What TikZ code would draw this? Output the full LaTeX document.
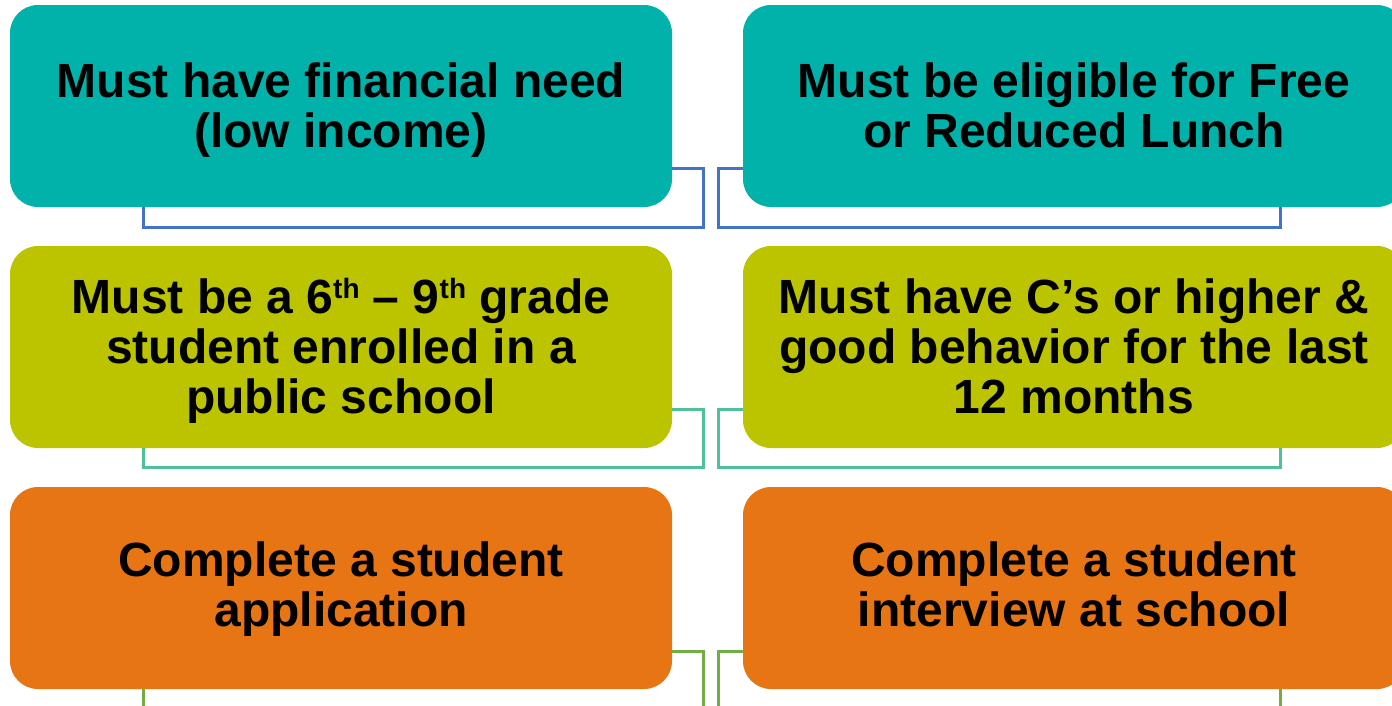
\documentclass[tikz,border=0pt]{standalone}
\usepackage{fontspec}
\setmainfont{Liberation Sans}
\definecolor{teal1}{RGB}{0,178,170}
\definecolor{olive1}{RGB}{188,196,0}
\definecolor{orange1}{RGB}{232,117,20}
\definecolor{lineblue}{RGB}{68,114,196}
\definecolor{linegreen}{RGB}{80,192,150}
\definecolor{linegreen2}{RGB}{112,173,71}
\newcommand{\topS}{\rule{0pt}{44pt}}
\newcommand{\topT}{\rule{0pt}{38pt}}
\newcommand{\botS}{\rule[-12pt]{0pt}{12pt}}
\newcommand{\sups}[1]{\raisebox{15pt}{\fontsize{28}{28}\selectfont #1}}
\tikzset{
  card/.style={rectangle, rounded corners=28pt, minimum width=662pt, minimum height=202pt,
    inner sep=0pt, align=center, font=\fontsize{48}{50}\selectfont\bfseries, text=black},
  conn/.style={line width=3pt}
}
\begin{document}
\begin{tikzpicture}[x=1pt,y=-1pt]
\useasboundingbox (0,0) rectangle (1392,705);
\clip (0,0) rectangle (1392,705);
\fill[white] (0,0) rectangle (1392,705);
% row 1
\node[card, fill=teal1] (a1) at (341,106) {\topS Must have financial need\\(low income)\botS};
\node[card, fill=teal1] (b1) at (1074,106) {\topS Must be eligible for Free\\or Reduced Lunch\botS};
% row 2
\node[card, fill=olive1] (a2) at (341,347) {\topS Must be a 6\sups{th} – 9\sups{th} grade\\student enrolled in a\\public school\botS};
\node[card, fill=olive1] (b2) at (1074,347) {\topS Must have C’s or higher \&\\good behavior for the last\\12 months\botS};
% row 3
\node[card, fill=orange1] (a3) at (341,588) {\topT Complete a student\\application\botS};
\node[card, fill=orange1] (b3) at (1074,588) {\topT Complete a student\\interview at school\botS};
% connectors row 1
\draw[conn, lineblue] ([yshift=-62pt]a1.east) -- ++(31,0) -- ++(0,59) -| ([xshift=-198pt]a1.south);
\draw[conn, lineblue] ([yshift=-62pt]b1.west) -- ++(-24,0) -- ++(0,59) -| ([xshift=206pt]b1.south);
% connectors row 2
\draw[conn, linegreen] ([yshift=-62pt]a2.east) -- ++(31,0) -- ++(0,58) -| ([xshift=-198pt]a2.south);
\draw[conn, linegreen] ([yshift=-62pt]b2.west) -- ++(-24,0) -- ++(0,58) -| ([xshift=206pt]b2.south);
% connectors row 3
\draw[conn, linegreen2] ([yshift=-63pt]a3.east) -- ++(31,0) -- ++(0,80) coordinate (a3end);
\draw[conn, linegreen2] ([yshift=-63pt]b3.west) -- ++(-24,0) -- ++(0,80) coordinate (b3end);
\draw[conn, linegreen2] ([xshift=-198pt]a3.south) -- ++(0,40) coordinate (a3down);
\draw[conn, linegreen2] ([xshift=206pt]b3.south) -- ++(0,40) coordinate (b3down);
\end{tikzpicture}
\end{document}
